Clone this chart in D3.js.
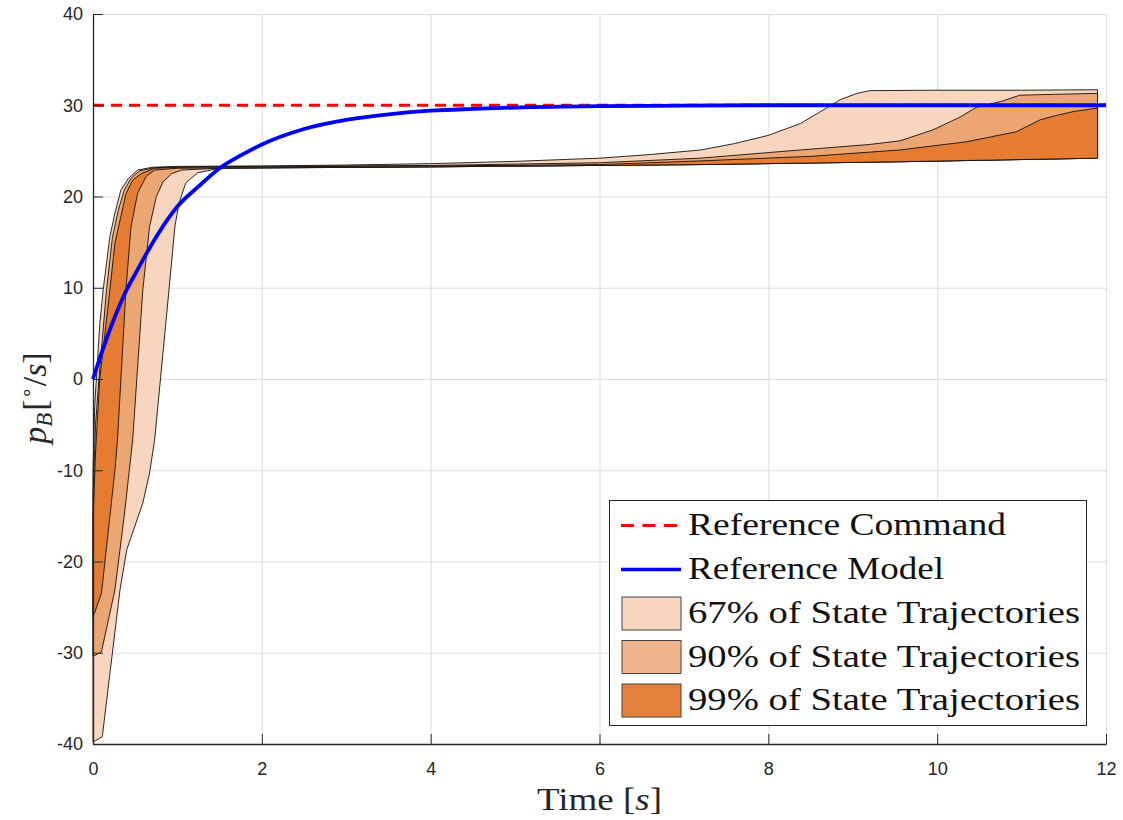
<!DOCTYPE html>
<html>
<head>
<meta charset="utf-8">
<script src="https://cdn.jsdelivr.net/npm/d3@7"></script>
<style>
  html, body { margin: 0; padding: 0; background: #fff; }
  svg { display: block; }
</style>
</head>
<body>
<svg id="chart" width="1123" height="820"></svg>
<script>
// ---- data ----
const xTicks = [0, 2, 4, 6, 8, 10, 12];
const yTicks = [-40, -30, -20, -10, 0, 10, 20, 30, 40];

const commandValue = 30;

// reference model response [t, value]
const modelT = [0, 0.1, 0.25, 0.4, 0.5, 0.75, 1, 1.25, 1.5, 1.75, 2, 2.5, 3, 3.5, 4, 4.5, 5, 6, 7, 8, 9, 10, 11, 12];
const modelV = [0, 2.8, 6.6, 9.8, 11.5, 15.6, 18.9, 21.1, 23.1, 24.5, 25.7, 27.4, 28.4, 29.0, 29.4, 29.6, 29.75, 29.9, 29.95, 30, 30, 30, 30, 30];

// 67% envelope: upper and lower bounds [t, value]
const band67Upper = [[0,-10],[0.02,-3],[0.04,0],[0.08,6],[0.12,9.75],[0.2,15.6],[0.26,18.2],[0.33,20.7],[0.42,22],[0.53,22.9],[0.7,23.2],[1,23.3],[2,23.35],[3,23.45],[4,23.6],[5,23.85],[6,24.2],[6.6,24.6],[7.2,25.1],[7.6,25.8],[8,26.7],[8.38,28],[8.69,29.7],[8.85,30.6],[9.05,31.3],[9.2,31.6],[10,31.65],[11,31.65],[11.9,31.7]];
const band67Lower = [[0,-39.8],[0.11,-39.2],[0.32,-23.1],[0.40,-18.7],[0.59,-13.6],[0.67,-10.3],[0.73,-6.7],[0.90,9.75],[0.97,16.7],[1.02,19.3],[1.1,21.5],[1.24,22.6],[1.5,23.1],[4,23.25],[7.2,23.5],[9.5,23.8],[11.9,24.2]];

// 90% envelope
const band90Upper = [[0,-13],[0.03,-5],[0.07,0],[0.16,9.75],[0.23,15.5],[0.3,18.5],[0.37,20.7],[0.45,22],[0.55,22.8],[0.72,23.15],[1,23.25],[2,23.3],[4,23.4],[6,23.7],[7.19,24.2],[8.38,25.1],[9.2,25.7],[9.56,26.1],[9.95,27.3],[10.27,28.7],[10.47,29.8],[10.75,30.4],[10.98,31.1],[11.4,31.2],[11.9,31.3]];
const band90Lower = [[0,-30.4],[0.1,-29.9],[0.26,-23.1],[0.37,-15],[0.47,-6.7],[0.59,9.75],[0.67,16.7],[0.75,20],[0.83,21.6],[0.93,22.5],[1.05,22.9],[1.5,23.1],[4,23.25],[7.2,23.5],[9.5,23.8],[11.9,24.2]];

// 99% envelope
const band99Upper = [[0,-15.5],[0.03,-8],[0.08,0],[0.2,9.75],[0.26,14.9],[0.33,17.8],[0.39,20.3],[0.47,21.8],[0.57,22.5],[0.73,23.1],[1,23.2],[2,23.25],[4,23.35],[6,23.5],[7.19,23.9],[8.5,24.4],[9.56,25.1],[10.35,26],[10.94,27.1],[11.22,28.4],[11.42,28.9],[11.61,29.3],[11.9,29.7]];
const band99Lower = [[0,-26.1],[0.1,-23.5],[0.26,-10],[0.29,-6.7],[0.39,9.75],[0.45,16.7],[0.53,20.4],[0.63,22.2],[0.73,22.9],[1,23.1],[2,23.15],[4,23.25],[7.2,23.5],[9.5,23.8],[11.9,24.2]];

const bandNames = ["67% of State Trajectories", "90% of State Trajectories", "99% of State Trajectories"];
const bandFills = ["#f7d5bf", "#eca672", "#e57c31"];
const bandSwatches = ["#f7d5bf", "#f0b48c", "#e5813b"];

// ---- layout ----
const svg = d3.select("#chart");
const x = d3.scaleLinear().domain([0, 12]).range([93, 1106]);
const y = d3.scaleLinear().domain([-40, 40]).range([744, 14]);

svg.append("rect").attr("width", 1123).attr("height", 820).attr("fill", "#fff");

// grid
const grid = svg.append("g").attr("stroke", "#dedede").attr("stroke-width", 1);
grid.selectAll("line.gx").data(xTicks).join("line")
  .attr("x1", d => x(d) + 0.5).attr("x2", d => x(d) + 0.5)
  .attr("y1", y(40)).attr("y2", y(-40));
grid.selectAll("line.gy").data(yTicks).join("line")
  .attr("y1", d => y(d) + 0.5).attr("y2", d => y(d) + 0.5)
  .attr("x1", x(0)).attr("x2", x(12));

// bands
const line = d3.line().x(d => x(d[0])).y(d => y(d[1]));
function bandPath(upper, lower) {
  const pts = upper.concat(lower.slice().reverse());
  return line(pts) + "Z";
}
const bands = [[band67Upper, band67Lower], [band90Upper, band90Lower], [band99Upper, band99Lower]];
svg.append("g").selectAll("path").data(bands).join("path")
  .attr("d", d => bandPath(d[0], d[1]))
  .attr("fill", (d, i) => bandFills[i])
  .attr("stroke", "#111")
  .attr("stroke-width", 0.9)
  .attr("stroke-linejoin", "round");

// reference command
svg.append("line")
  .attr("x1", x(0)).attr("x2", x(12))
  .attr("y1", y(commandValue)).attr("y2", y(commandValue))
  .attr("stroke", "#ff0000").attr("stroke-width", 3.2)
  .attr("stroke-dasharray", "11,7");

// reference model
const modelLine = d3.line().curve(d3.curveMonotoneX).x(d => x(d[0])).y(d => y(d[1]));
svg.append("path")
  .attr("d", modelLine(modelT.map((t, i) => [t, modelV[i]])))
  .attr("fill", "none").attr("stroke", "#0000ff").attr("stroke-width", 3.8);

// axes
const fontSans = "'Liberation Sans', Arial, Helvetica, sans-serif";
const xAxis = d3.axisBottom(x).tickValues(xTicks).tickFormat(d => String(d)).tickSizeInner(-10).tickSizeOuter(0).tickPadding(18);
const yAxis = d3.axisLeft(y).tickValues(yTicks).tickFormat(d => String(d)).tickSizeInner(-10).tickSizeOuter(0).tickPadding(10);

const gx = svg.append("g").attr("transform", `translate(0,${y(-40)})`).call(xAxis);
const gy = svg.append("g").attr("transform", `translate(${x(0)},0)`).call(yAxis);
[gx, gy].forEach(g => {
  g.attr("font-size", 18).attr("font-family", fontSans);
  g.select(".domain").attr("stroke", "#262626").attr("stroke-width", 1.3);
  g.selectAll(".tick line").attr("stroke", "#262626").attr("stroke-width", 1);
  g.selectAll(".tick text").attr("fill", "#262626").attr("font-size", 18).style("font-size", "18px");
});

// axis labels
const fontSerif = "'Liberation Serif', 'Times New Roman', serif";
const xl = svg.append("text")
  .attr("x", x(6)).attr("y", 810)
  .attr("text-anchor", "middle")
  .attr("textLength", 125).attr("lengthAdjust", "spacingAndGlyphs")
  .style("font-family", fontSerif).style("font-size", "32px").attr("fill", "#262626");
xl.append("tspan").text("Time [");
xl.append("tspan").style("font-style", "italic").text("s");
xl.append("tspan").text("]");

const yl = svg.append("text")
  .attr("transform", "translate(46,398) rotate(-90)")
  .attr("text-anchor", "middle")
  .style("font-family", fontSerif).style("font-size", "34px").attr("fill", "#262626");
yl.append("tspan").style("font-style", "italic").text("p");
yl.append("tspan").style("font-style", "italic").style("font-size", "23px").attr("dy", 6).text("B");
yl.append("tspan").attr("dy", -6).attr("dx", 2).text("[");
yl.append("tspan").style("font-size", "20px").attr("dy", -12).text("∘");
yl.append("tspan").attr("dy", 12).text("/");
yl.append("tspan").style("font-style", "italic").text("s");
yl.append("tspan").text("]");

// legend
const leg = svg.append("g");
leg.append("rect")
  .attr("x", 609.5).attr("y", 500.5).attr("width", 477).attr("height", 225)
  .attr("fill", "#fff").attr("stroke", "#262626").attr("stroke-width", 1);

const legendRows = [
  { kind: "dash", label: "Reference Command", cy: 525.5, base: 535, w: 318 },
  { kind: "solid", label: "Reference Model", cy: 569.5, base: 579, w: 256 },
  { kind: "box", label: bandNames[0], i: 0, top: 597, base: 623, w: 392 },
  { kind: "box", label: bandNames[1], i: 1, top: 640.5, base: 667, w: 392 },
  { kind: "box", label: bandNames[2], i: 2, top: 684, base: 710, w: 392 }
];
legendRows.forEach(r => {
  if (r.kind === "dash") {
    leg.append("line").attr("x1", 621).attr("x2", 681).attr("y1", r.cy).attr("y2", r.cy)
      .attr("stroke", "#ff0000").attr("stroke-width", 3.2).attr("stroke-dasharray", "13,8.5");
  } else if (r.kind === "solid") {
    leg.append("line").attr("x1", 621).attr("x2", 681).attr("y1", r.cy).attr("y2", r.cy)
      .attr("stroke", "#0000ff").attr("stroke-width", 3.6);
  } else {
    leg.append("rect").attr("x", 622).attr("y", r.top).attr("width", 59).attr("height", 33)
      .attr("fill", bandSwatches[r.i]).attr("stroke", "#444").attr("stroke-width", 1);
  }
  leg.append("text").attr("x", 688).attr("y", r.base)
    .attr("textLength", r.w).attr("lengthAdjust", "spacingAndGlyphs")
    .style("font-family", fontSerif).style("font-size", "32px").attr("fill", "#111")
    .text(r.label);
});
</script>
</body>
</html>
